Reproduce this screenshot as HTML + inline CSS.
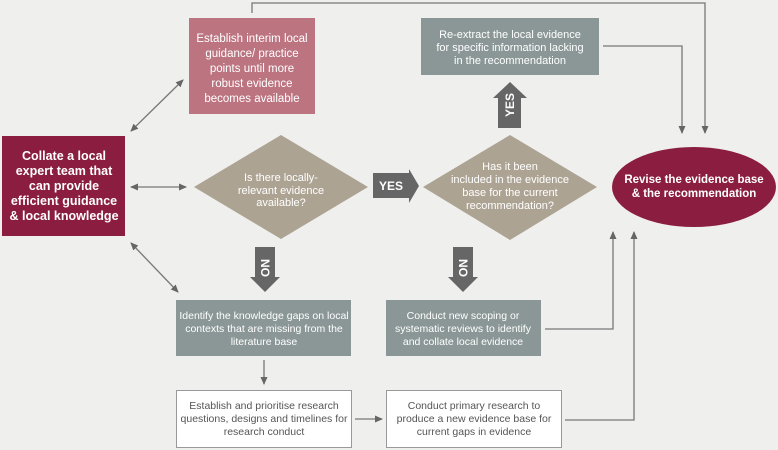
<!DOCTYPE html>
<html><head><style>
body{margin:0;background:#eff0ee;}
svg{display:block;font-family:"Liberation Sans",sans-serif;}
</style></head><body>
<svg width="778" height="450" viewBox="0 0 778 450">
<defs>
<marker id="a" markerWidth="8" markerHeight="8" refX="7" refY="4" orient="auto-start-reverse" markerUnits="userSpaceOnUse"><path d="M0,0.5 L8,4 L0,7.5z" fill="#666"/></marker>
</defs>
<rect width="778" height="450" fill="#eff0ee"/>
<g stroke="#777" stroke-width="1.3" fill="none">
<polyline points="252,13 252,3 705,3 705,133" marker-end="url(#a)"/>
<polyline points="603,46 682,46 682,133" marker-end="url(#a)"/>
<polyline points="545,329 613,329 613,232" marker-end="url(#a)"/>
<polyline points="565,420 634,420 634,232" marker-end="url(#a)"/>
<line x1="264" y1="360" x2="264" y2="384" marker-end="url(#a)"/>
<line x1="355" y1="419" x2="382" y2="419" marker-end="url(#a)"/>
<line x1="131" y1="131" x2="183" y2="80" marker-start="url(#a)" marker-end="url(#a)"/>
<line x1="131" y1="187" x2="186" y2="187" marker-start="url(#a)" marker-end="url(#a)"/>
<line x1="131" y1="243" x2="178" y2="292" marker-start="url(#a)" marker-end="url(#a)"/>
</g>
<rect x="2" y="136" width="123" height="100" fill="#8b1e40"/>
<rect x="189" y="18" width="126" height="96" fill="#bc7480"/>
<rect x="421" y="18" width="178" height="57" fill="#8a9796"/>
<rect x="176" y="300" width="175" height="56" fill="#8a9796"/>
<rect x="386" y="300" width="155" height="56" fill="#8a9796"/>
<rect x="176.5" y="390.5" width="175" height="57" fill="#fff" stroke="#999"/>
<rect x="386.5" y="390.5" width="175" height="57" fill="#fff" stroke="#999"/>
<polygon points="194,187 281,135 368,187 281,239" fill="#ada393"/>
<polygon points="423,187 510,135 597,187 510,240" fill="#ada393"/>
<ellipse cx="694" cy="187" rx="82" ry="40" fill="#8b1e40"/>
<polygon points="373,173 409,173 409,169 419,186 409,203 409,198 373,198" fill="#666"/>
<polygon points="498,128 498,98 493,98 510,82 527,98 521,98 521,128" fill="#666"/>
<polygon points="255,247 275,247 275,277 280,277 265,292 250,277 255,277" fill="#666"/>
<polygon points="453,247 473,247 473,277 478,277 463,292 448,277 453,277" fill="#666"/>
<g fill="#fff" font-weight="bold" font-size="12">
<text x="391" y="190" text-anchor="middle">YES</text>
<text transform="translate(514,105) rotate(-90)" text-anchor="middle">YES</text>
<text transform="translate(261,268) rotate(90)" text-anchor="middle">NO</text>
<text transform="translate(459,268) rotate(90)" text-anchor="middle">NO</text>
</g>
<g fill="#fff" font-size="11" text-anchor="middle">
<text font-weight="bold" font-size="12.5"><tspan x="64" y="160">Collate a local</tspan><tspan x="64" y="175">expert team that</tspan><tspan x="64" y="190">can provide</tspan><tspan x="64" y="205">efficient guidance</tspan><tspan x="64" y="220">&amp; local knowledge</tspan></text>
<text font-size="11.5"><tspan x="252" y="42">Establish interim local</tspan><tspan x="252" y="57">guidance/ practice</tspan><tspan x="252" y="72">points until more</tspan><tspan x="252" y="87">robust evidence</tspan><tspan x="252" y="102">becomes available</tspan></text>
<text><tspan x="510" y="38">Re-extract the local evidence</tspan><tspan x="510" y="51">for specific information lacking</tspan><tspan x="510" y="64">in the recommendation</tspan></text>
<text><tspan x="281" y="181">Is there locally-</tspan><tspan x="281" y="194">relevant evidence</tspan><tspan x="281" y="206">available?</tspan></text>
<text><tspan x="510" y="170">Has it been</tspan><tspan x="510" y="183">included in the evidence</tspan><tspan x="510" y="196">base for the current</tspan><tspan x="510" y="209">recommendation?</tspan></text>
<text font-weight="bold" font-size="11.5"><tspan x="694" y="183">Revise the evidence base</tspan><tspan x="694" y="197">&amp; the recommendation</tspan></text>
<text font-size="10.5"><tspan x="264" y="319">Identify the knowledge gaps on local</tspan><tspan x="264" y="332">contexts that are missing from the</tspan><tspan x="264" y="345">literature base</tspan></text>
<text font-size="10.5"><tspan x="463" y="319">Conduct new scoping or</tspan><tspan x="463" y="332">systematic reviews to identify</tspan><tspan x="463" y="345">and collate local evidence</tspan></text>
</g>
<g fill="#555" font-size="10.5" text-anchor="middle">
<text><tspan x="264" y="409">Establish and prioritise research</tspan><tspan x="264" y="422">questions, designs and timelines for</tspan><tspan x="264" y="435">research conduct</tspan></text>
<text><tspan x="474" y="409">Conduct primary research to</tspan><tspan x="474" y="422">produce a new evidence base for</tspan><tspan x="474" y="435">current gaps in evidence</tspan></text>
</g>
</svg>
</body></html>
